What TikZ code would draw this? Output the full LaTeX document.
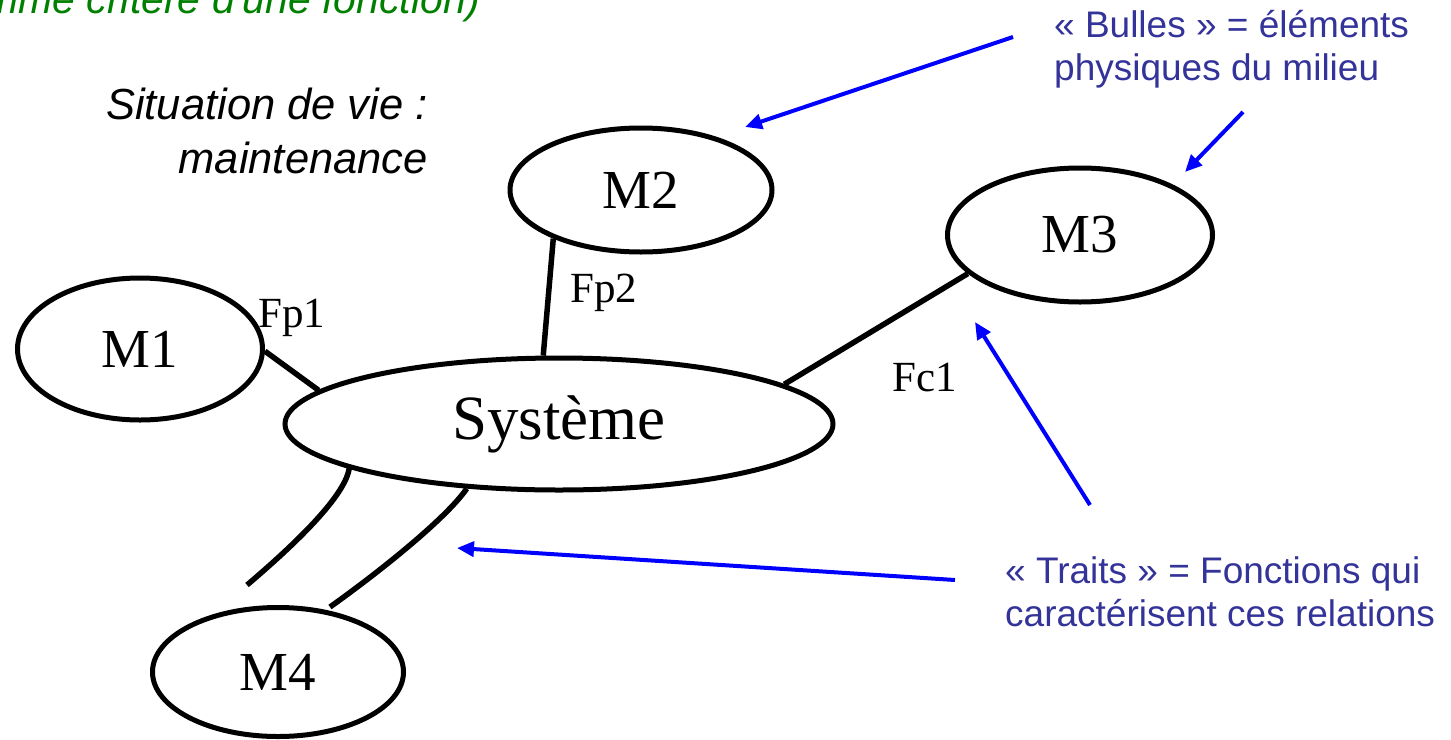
\documentclass[tikz,border=0pt]{standalone}
\usepackage{fontspec}
\setmainfont{Liberation Serif}
\newfontfamily\arialfont{Liberation Sans}
\usetikzlibrary{shapes.geometric,arrows.meta}
\definecolor{annot}{RGB}{51,51,153}
\definecolor{arrowblue}{RGB}{0,0,255}
\definecolor{greentxt}{RGB}{0,128,0}
\begin{document}
\begin{tikzpicture}[x=1pt,y=-1pt,
  bulle/.style={ellipse,draw=black,line width=5pt,inner sep=0pt,font=\fontsize{55}{60}\selectfont},
  conn/.style={draw=black,line width=5.5pt},
  flabel/.style={inner sep=0pt,font=\fontsize{43}{48}\selectfont},
  pointer/.style={draw=arrowblue,line width=4pt,-{Triangle[length=17pt,width=15pt]}},
  annottxt/.style={inner sep=0pt,text=annot,align=left,font=\arialfont\fontsize{37}{43}\selectfont},
  sittxt/.style={inner sep=0pt,align=right,font=\arialfont\itshape\fontsize{43.5}{54}\selectfont}]
\useasboundingbox (0,0) rectangle (1451,739);
% bubbles
\node[bulle,minimum width=245pt,minimum height=142pt] (M1) at (140,349) {M1};
\node[bulle,minimum width=262pt,minimum height=124pt] (M2) at (641,190) {M2};
\node[bulle,minimum width=265pt,minimum height=134pt] (M3) at (1080,235) {M3};
\node[bulle,minimum width=548pt,minimum height=132pt,font=\fontsize{63}{68}\selectfont] (Sys) at (559,424) {Système};
\node[bulle,minimum width=251pt,minimum height=129pt] (M4) at (278,672) {M4};
% connectors
\draw[conn] (M1.-1) -- (Sys.172.3);
\draw[conn] (M2.209.7) -- (Sys.103.4);
\draw[conn] (M3.199) -- (Sys.10.1);
\coordinate (m4a) at (247,585);
\coordinate (m4b) at (330,607);
\draw[conn] (Sys.192.3) .. controls (345,495) and (300,540) .. (m4a);
\draw[conn] (Sys.215.9) .. controls (445,520) and (375,575) .. (m4b);
% function labels
\node[flabel] (fp1) at (292,318) {Fp1};
\node[flabel] (fp2) at (604,293) {Fp2};
\node[flabel] (fc1) at (925,378) {Fc1};
% texts
\node[inner sep=0pt,anchor=base east,text=greentxt,font=\arialfont\itshape\fontsize{41}{48}\selectfont] (green) at (480,13) {comme critère d'une fonction)};
\node[sittxt,anchor=north east] (sit) at (428,88) {Situation de vie :\\maintenance};
\node[annottxt,anchor=north west] (bulles) at (1054,10) {« Bulles » = éléments\\physiques du milieu};
\node[annottxt,anchor=north west] (traits) at (1005,556) {« Traits » = Fonctions qui\\caractérisent ces relations};
% pointers
\coordinate (a1s) at (1013,37); \coordinate (a1e) at (745,127);
\coordinate (a2s) at (1243,112); \coordinate (a2e) at (1185,172);
\coordinate (a3s) at (1090,505); \coordinate (a3e) at (975,322);
\coordinate (a4s) at (955,580); \coordinate (a4e) at (457,548);
\draw[pointer] (a1s) -- (a1e);
\draw[pointer] (a2s) -- (a2e);
\draw[pointer] (a3s) -- (a3e);
\draw[pointer] (a4s) -- (a4e);
\end{tikzpicture}
\end{document}
